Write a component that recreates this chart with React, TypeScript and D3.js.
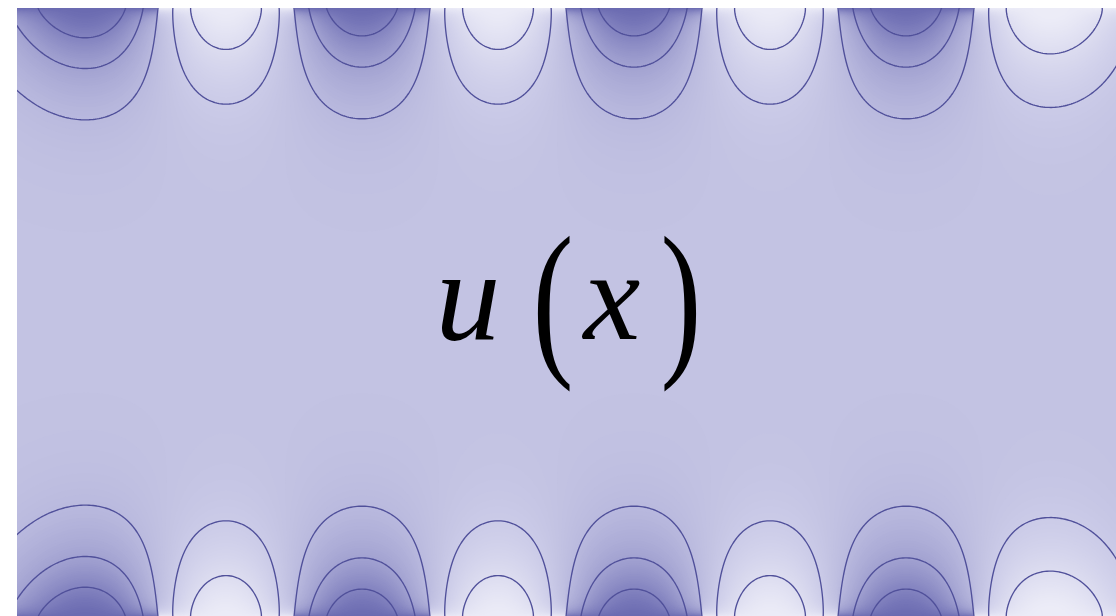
import React, { useMemo } from 'react';
import * as d3 from 'd3';

const W = 1116;
const H = 616;

// Boundary pattern along the top and bottom edges, in block units.
// Value -1 is the dark phase, +1 the light phase; outside the edges the data is 0.
const blockEdges = [0.06, 1, 2, 3, 4, 5, 6, 7, 8];
const topValues = [-1, 1, -1, 1, -1, 1, -1, 1];
const bottomValues = [-1, 1, -1, 1, -1, 1, -1, 1];

// Iso-levels drawn as lines.
const contourLevels = [-0.7, -0.35, 0, 0.35, 0.7];

// Visible window of the field, in block units.
const xDomain = [-0.0368, 8.0441];
const yDomain = [0, 4.478];

// Field parameters (block units).
const smoothing = 0.294; // horizontal smoothing of the boundary data
const decayLength = 0.515; // decay of the oscillating part
const decayPower = 1.4;
const meanLength = 0.588; // relaxation of the mean towards the interior value
const interiorValue = 0.2;
const edgeLayer = 0.05; // thickness of the raw boundary layer in the shading

// Shading ramp.
const colorDomain = [-1, -0.7, -0.35, 0, 0.2, 0.35, 0.7, 1];
const colorStops = ['#6a6ab0', '#8383c0', '#a2a2d1', '#b9b9de', '#c3c3e3', '#cbcbe8', '#dcdcf0', '#ececf7'];

function erf(x: number) {
  const s = Math.sign(x);
  const a = Math.abs(x);
  const t = 1 / (1 + 0.3275911 * a);
  const y =
    1 -
    ((((1.061405429 * t - 1.453152027) * t + 1.421413741) * t - 0.284496736) * t + 0.254829592) *
      t *
      Math.exp(-a * a);
  return s * y;
}
const Phi = (z: number) => 0.5 * (1 + erf(z / Math.SQRT2));

function smoothedEdge(values: number[], x: number) {
  let s = 0;
  for (let i = 0; i < values.length; i++) {
    const a = blockEdges[i];
    const b = blockEdges[i + 1];
    s += values[i] * (Phi((b - x) / smoothing) - Phi((a - x) / smoothing));
  }
  return s;
}

function rawEdge(values: number[], x: number) {
  const xc = Math.min(Math.max(x, blockEdges[0]), blockEdges[blockEdges.length - 1] - 1e-9);
  const i = d3.bisectRight(blockEdges, xc) - 1;
  return values[Math.max(0, Math.min(values.length - 1, i))];
}

export default function App() {
  const plot = { left: 17, top: 8, width: 1099, height: 609 };
  const xScale = d3.scaleLinear().domain(xDomain).range([plot.left, plot.left + plot.width]);
  const yScale = d3.scaleLinear().domain(yDomain).range([plot.top, plot.top + plot.height]);
  const color = d3
    .scaleLinear<string>()
    .domain(colorDomain)
    .range(colorStops)
    .interpolate(d3.interpolateRgb)
    .clamp(true);

  const { bands, lines } = useMemo(() => {
    const step = 2;
    const nx = Math.ceil(plot.width / step) + 1;
    const ny = Math.ceil(plot.height / step) + 1;
    const norm = Math.abs(smoothedEdge(topValues, 4.5));
    const g = (d: number) => Math.exp(-Math.pow(Math.max(d, 0) / decayLength, decayPower));
    const m = (d: number) => Math.exp(-Math.max(d, 0) / meanLength);
    const layer = (d: number) => Math.exp(-Math.max(d, 0) / edgeLayer);

    const topS = new Float64Array(nx);
    const botS = new Float64Array(nx);
    const topR = new Float64Array(nx);
    const botR = new Float64Array(nx);
    for (let i = 0; i < nx; i++) {
      const xu = xScale.invert(plot.left + i * step);
      topS[i] = smoothedEdge(topValues, xu) / norm;
      botS[i] = smoothedEdge(bottomValues, xu) / norm;
      topR[i] = rawEdge(topValues, xu) - topS[i];
      botR[i] = rawEdge(bottomValues, xu) - botS[i];
    }
    const values = new Float64Array(nx * ny);
    const shade = new Float64Array(nx * ny);
    const yMax = yDomain[1];
    for (let j = 0; j < ny; j++) {
      const d1 = yScale.invert(plot.top + j * step);
      const d2 = yMax - d1;
      const g1 = g(d1);
      const g2 = g(d2);
      const l1 = layer(d1);
      const l2 = layer(d2);
      const base = interiorValue * (1 - m(d1) - m(d2));
      for (let i = 0; i < nx; i++) {
        const v = base + topS[i] * g1 + botS[i] * g2;
        values[j * nx + i] = v;
        shade[j * nx + i] = v + topR[i] * l1 + botR[i] * l2;
      }
    }

    const proj = d3
      .geoIdentity()
      .scale(step)
      .translate([plot.left - 0.5 * step, plot.top - 0.5 * step]);
    const path = d3.geoPath(proj);

    const fillThresholds = d3.range(-1.3, 1.3, 0.02);
    const bandGen = d3.contours().size([nx, ny]).thresholds(fillThresholds);
    const bands = bandGen(Array.from(shade)).map((c) => ({
      d: path(c as any) || '',
      fill: color(c.value + 0.01),
    }));
    const lineGen = d3.contours().size([nx, ny]).thresholds(contourLevels);
    const lines = lineGen(Array.from(values)).map((c) => ({ d: path(c as any) || '', v: c.value }));
    return { bands, lines };
  }, []);

  const serif = '"Liberation Serif", "DejaVu Serif", serif';

  return (
    <div style={{ position: 'fixed', left: 0, top: 0, width: W, height: H, background: '#ffffff' }}>
      <svg width={W} height={H} style={{ display: 'block' }}>
        <defs>
          <clipPath id="field-clip">
            <rect x={plot.left} y={plot.top} width={plot.width} height={plot.height} />
          </clipPath>
        </defs>
        <g clipPath="url(#field-clip)">
          <rect x={plot.left} y={plot.top} width={plot.width} height={plot.height} fill={color(-1.3)} />
          {bands.map((b, i) => (
            <path key={i} d={b.d} fill={b.fill} stroke="none" />
          ))}
          {lines.map((l, i) => (
            <path key={'l' + i} d={l.d} fill="none" stroke="#50509a" strokeWidth={1.35} strokeLinejoin="round" />
          ))}
        </g>
        <g fill="#000000" fontFamily={serif}>
          <text x={468} y={339} fontSize={130} fontStyle="italic" textAnchor="middle">
            u
          </text>
          <text transform="translate(553,355) scale(0.82,1.15)" fontSize={150} textAnchor="middle">
            (
          </text>
          <text x={612} y={339} fontSize={128} fontStyle="italic" textAnchor="middle">
            x
          </text>
          <text transform="translate(681,355) scale(0.82,1.15)" fontSize={150} textAnchor="middle">
            )
          </text>
        </g>
      </svg>
    </div>
  );
}
